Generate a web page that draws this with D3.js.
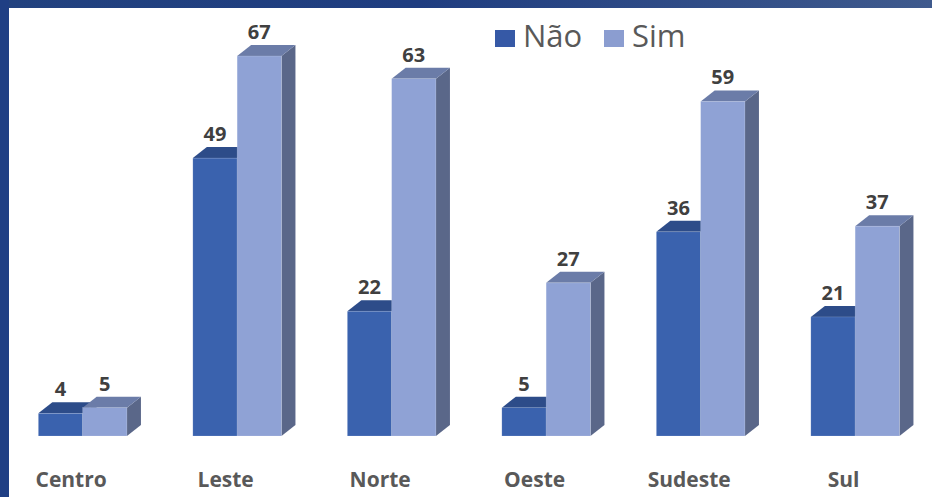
<!DOCTYPE html>
<html>
<head>
<meta charset="utf-8">
<script src="https://cdn.jsdelivr.net/npm/d3@7"></script>
<style>
  html, body { margin: 0; padding: 0; background: #fff; }
  svg { display: block; }
</style>
</head>
<body>
<div id="chart"></div>
<script>
// data
var categories = ["Centro", "Leste", "Norte", "Oeste", "Sudeste", "Sul"];
var seriesNames = ["Não", "Sim"];
var naoValues = [4, 49, 22, 5, 36, 21];
var simValues = [5, 67, 63, 27, 59, 37];

var width = 932, height = 497;

// face colours per series: front, top, side
var colors = {
  "Não": { front: "#3a62ae", top: "#2d4c89", side: "#2a4784", legend: "#3659a6" },
  "Sim": { front: "#8fa2d5", top: "#6b7ca8", side: "#5a6789", legend: "#8b9dd0" }
};

// 3D depth of the bars
var dx = 14, dy = -11;

var svg = d3.select("#chart").append("svg")
    .attr("width", width)
    .attr("height", height);

// dark blue frame, top and left
var defs = svg.append("defs");
var grad = defs.append("linearGradient")
    .attr("id", "frame")
    .attr("x1", "0%").attr("y1", "0%")
    .attr("x2", "100%").attr("y2", "0%");
grad.append("stop").attr("offset", "0%").attr("stop-color", "#22427f");
grad.append("stop").attr("offset", "45%").attr("stop-color", "#1f3d80");
grad.append("stop").attr("offset", "100%").attr("stop-color", "#3f5a8d");

svg.append("rect").attr("x", 0).attr("y", 0).attr("width", width).attr("height", 8)
    .attr("fill", "url(#frame)");
svg.append("rect").attr("x", 0).attr("y", 0).attr("width", 9).attr("height", height)
    .attr("fill", "#1f3f84");

// scales
var x0 = d3.scaleBand()
    .domain(categories)
    .range([5.4, 932.4])
    .paddingInner(0.4265)
    .paddingOuter(0.4265 / 2);

var x1 = d3.scaleBand()
    .domain(seriesNames)
    .range([0, x0.bandwidth()]);

var y = d3.scaleLinear()
    .domain([0, 70])
    .range([436, 39]);

var rows = categories.map(function (c, i) {
  return { cat: c, values: [
    { name: "Não", value: naoValues[i] },
    { name: "Sim", value: simValues[i] }
  ]};
});

var groups = svg.append("g").selectAll(".group")
    .data(rows)
    .enter().append("g")
    .attr("class", "group")
    .attr("transform", function (d) { return "translate(" + x0(d.cat) + ",0)"; });

var bars = groups.selectAll(".bar")
    .data(function (d) { return d.values; })
    .enter().append("g")
    .attr("class", "bar");

var bw = x1.bandwidth();

// side face
bars.append("path")
    .attr("d", function (d) {
      var l = x1(d.name) + bw, t = y(d.value), b = y(0);
      return "M" + l + "," + t + "L" + (l + dx) + "," + (t + dy) +
             "L" + (l + dx) + "," + (b + dy) + "L" + l + "," + b + "Z";
    })
    .attr("fill", function (d) { return colors[d.name].side; });

// top face
bars.append("path")
    .attr("d", function (d) {
      var l = x1(d.name), t = y(d.value);
      return "M" + l + "," + t + "L" + (l + dx) + "," + (t + dy) +
             "L" + (l + bw + dx) + "," + (t + dy) + "L" + (l + bw) + "," + t + "Z";
    })
    .attr("fill", function (d) { return colors[d.name].top; });

// front face
bars.append("rect")
    .attr("x", function (d) { return x1(d.name); })
    .attr("y", function (d) { return y(d.value); })
    .attr("width", bw)
    .attr("height", function (d) { return y(0) - y(d.value); })
    .attr("fill", function (d) { return colors[d.name].front; })
    .attr("stroke", "rgba(255,255,255,0.25)")
    .attr("stroke-width", 0.6);

// value labels
bars.append("text")
    .attr("x", function (d) { return x1(d.name) + bw / 2; })
    .attr("y", function (d) { return y(d.value) + dy - 6; })
    .attr("text-anchor", "middle")
    .style("font-family", "'Open Sans', sans-serif")
    .style("font-weight", "bold")
    .style("font-size", "20px")
    .style("fill", "#404040")
    .text(function (d) { return d.value; });

// category labels
svg.append("g").selectAll(".cat")
    .data(categories)
    .enter().append("text")
    .attr("class", "cat")
    .attr("x", function (d) { return x0(d) + x0.bandwidth() / 2 - 11.5; })
    .attr("y", 487)
    .attr("text-anchor", "middle")
    .style("font-family", "'Open Sans', sans-serif")
    .style("font-weight", "bold")
    .style("font-size", "21px")
    .style("fill", "#595959")
    .text(function (d) { return d; });

// legend
var legendX = [495, 604];
var legend = svg.append("g").selectAll(".legend")
    .data(seriesNames)
    .enter().append("g")
    .attr("class", "legend")
    .attr("transform", function (d, i) { return "translate(" + legendX[i] + ",0)"; });

legend.append("rect")
    .attr("x", 0).attr("y", 30)
    .attr("width", 20).attr("height", 17)
    .attr("fill", function (d) { return colors[d].legend; });

legend.append("text")
    .attr("x", 28)
    .attr("y", 47)
    .style("font-family", "'Open Sans', sans-serif")
    .style("font-size", "31px")
    .style("fill", "#595959")
    .text(function (d) { return d; });
</script>
</body>
</html>
